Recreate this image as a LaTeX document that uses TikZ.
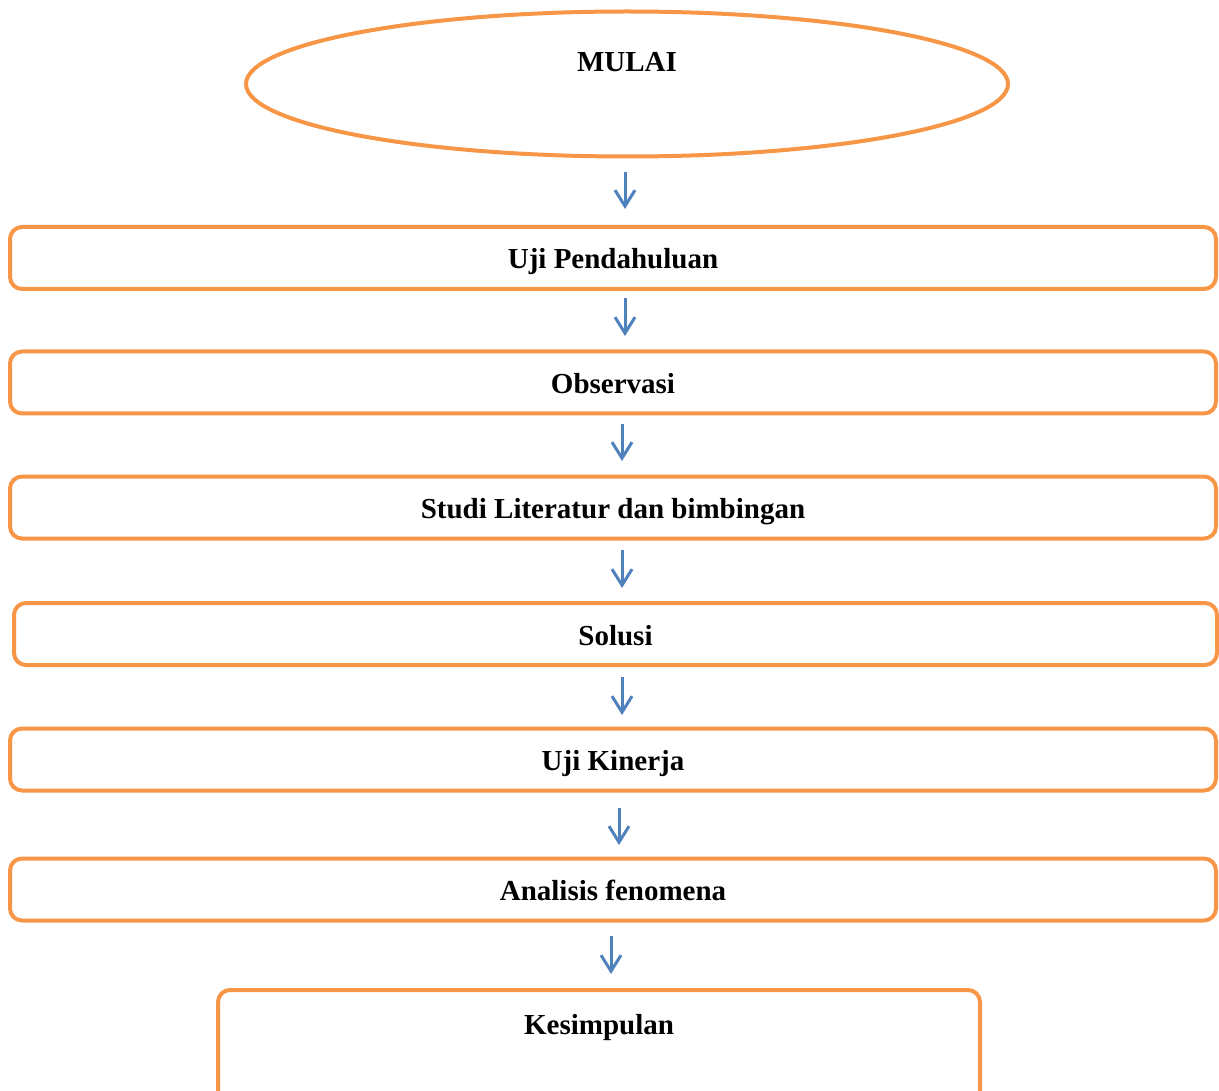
\documentclass[tikz,border=0pt]{standalone}
\usepackage{fontspec}
\setmainfont{Liberation Serif}
\usetikzlibrary{arrows.meta,shapes.geometric}
\definecolor{boxline}{HTML}{F79646}
\definecolor{flowblue}{HTML}{4F81BD}
\tikzset{
  steptext/.style={font=\fontsize{29}{34}\selectfont\bfseries, inner sep=0pt,
    text height=26pt, text depth=4pt},
  stepbox/.style={draw=boxline, line width=4pt, rounded corners=12pt,
    minimum width=1206pt, minimum height=62pt, steptext},
  startshape/.style={ellipse, draw=boxline, line width=4pt,
    minimum width=762pt, minimum height=145pt, inner sep=0pt},
  flowarrow/.style={flowblue, line width=3pt,
    -{Straight Barb[length=16pt,width=20pt]}}
}
\begin{document}
\begin{tikzpicture}[x=1pt,y=-1pt]
  \useasboundingbox (0,0) rectangle (1219,1091);
  \clip (0,0) rectangle (1219,1091);
  % start
  \node[startshape] (mulai) at (627,84) {};
  \node[steptext] (mulaitext) at (627,60.5) {MULAI};
  % steps
  \node[stepbox] (uji) at (613,258) {Uji Pendahuluan};
  \node[stepbox] (observasi) at (613,382.5) {Observasi};
  \node[stepbox] (studi) at (613,507.5) {Studi Literatur dan bimbingan};
  \node[stepbox, minimum width=1203pt] (solusi) at (615.5,634) {Solusi};
  \node[stepbox] (kinerja) at (613,759.5) {Uji Kinerja};
  \node[stepbox] (analisis) at (613,889.5) {Analisis fenomena};
  % end box, text sits near its top
  \node[stepbox, minimum width=762pt, minimum height=120pt] (kesimpulan) at (599,1050) {};
  \node[steptext] (kesimpulantext) at (599,1023.5) {Kesimpulan};
  % arrows between the boxes
  \foreach \i/\x/\ya/\yb in {1/625/172/209, 2/625/298/336, 3/622/424/461,
      4/622/550/588, 5/622/677/715, 6/619/808/845, 7/611/936/974} {
    \coordinate (t\i) at (\x,\ya);
    \coordinate (b\i) at (\x,\yb);
    \draw[flowarrow] (t\i) -- (b\i);
  }
\end{tikzpicture}
\end{document}
